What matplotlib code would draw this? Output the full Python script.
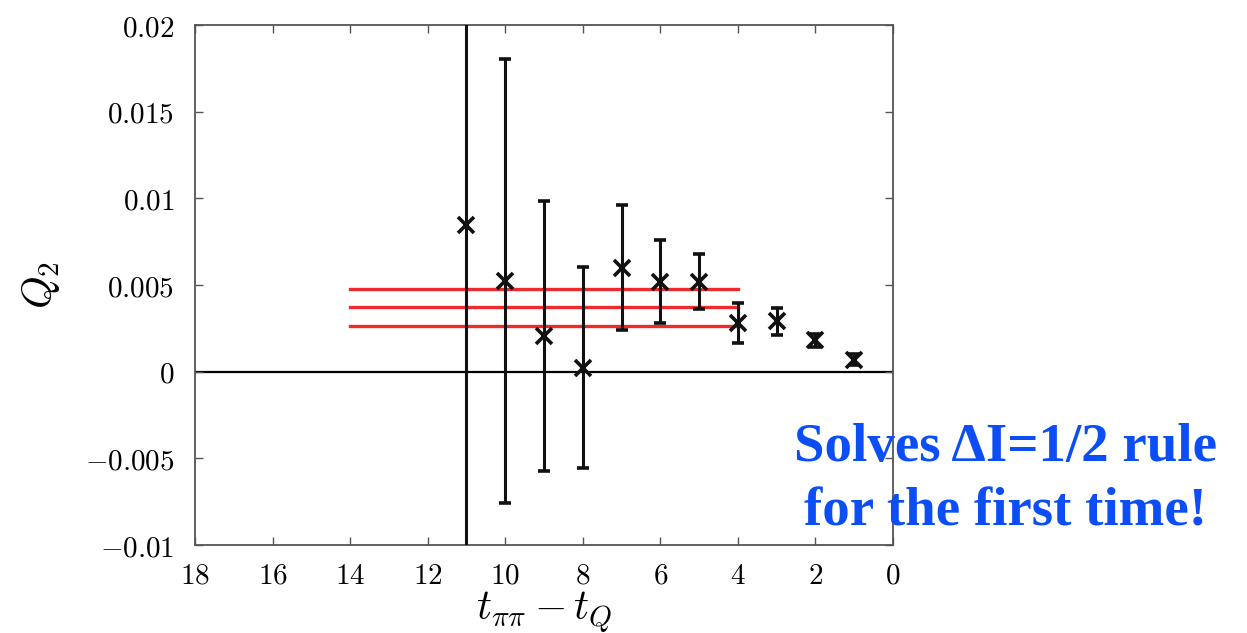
import numpy as np
import matplotlib.pyplot as plt
from matplotlib.ticker import FuncFormatter

plt.rcParams['mathtext.fontset'] = 'cm'
plt.rcParams['font.family'] = 'serif'

# data
t = [11, 10, 9, 8, 7, 6, 5, 4, 3, 2, 1]
q2 = [0.00845, 0.00523, 0.00207, 0.00023, 0.0060, 0.0052, 0.0052, 0.0028, 0.0029, 0.0018, 0.0007]
q2_err = [0.025, 0.0128, 0.0078, 0.0058, 0.0036, 0.0024, 0.0016, 0.00115, 0.0008, 0.0004, 0.0003]

fit_range = [14, 4]
fit_val = 0.00372
fit_err = 0.00107

xticks = [18, 16, 14, 12, 10, 8, 6, 4, 2, 0]
yticks = [-0.01, -0.005, 0, 0.005, 0.01, 0.015, 0.02]

fig = plt.figure(figsize=(12.47, 6.33), dpi=100)
ax = fig.add_axes([0.1564, 0.139, 0.5597, 0.8215])

ax.axhline(0, color='black', lw=1.6, zorder=1)

for v in [fit_val + fit_err, fit_val, fit_val - fit_err]:
    ax.plot(fit_range, [v, v], color='#EE2B2B', lw=2.4, zorder=2)

ax.errorbar(t, q2, yerr=q2_err, fmt='x', color='#111111', ms=12, mew=2.6,
            elinewidth=2.2, capsize=4, capthick=2.2, zorder=3)

ax.set_xlim(18, 0)
ax.set_ylim(-0.01, 0.02)
ax.set_xticks(xticks)
ax.set_yticks(yticks)


def fmt_y(v, pos):
    if abs(v) < 1e-12:
        return r'$0$'
    s = ('%.3f' % v).rstrip('0')
    return '$' + s + '$'


ax.yaxis.set_major_formatter(FuncFormatter(fmt_y))
ax.xaxis.set_major_formatter(FuncFormatter(lambda v, p: '$%d$' % v))
ax.tick_params(direction='in', length=6, width=1.0, color='#555555',
               top=True, right=True, labelsize=21)
ax.tick_params(axis='x', pad=12)
ax.tick_params(axis='y', pad=15)
for sp in ax.spines.values():
    sp.set_color('#555555')
    sp.set_linewidth(1.3)

ax.set_xlabel(r'$t_{\pi\pi} - t_Q$', fontsize=30, labelpad=0)
ax.set_ylabel(r'$Q_2$', fontsize=30, labelpad=16)

fig.text(0.806, 0.242, 'Solves \u0394I=1/2 rule\nfor the first time!',
         ha='center', va='center', multialignment='center',
         fontsize=39.5, fontweight='bold', family='Liberation Serif',
         color='#0B4EF5', linespacing=1.38)

fig.savefig('out.png', dpi=100)
